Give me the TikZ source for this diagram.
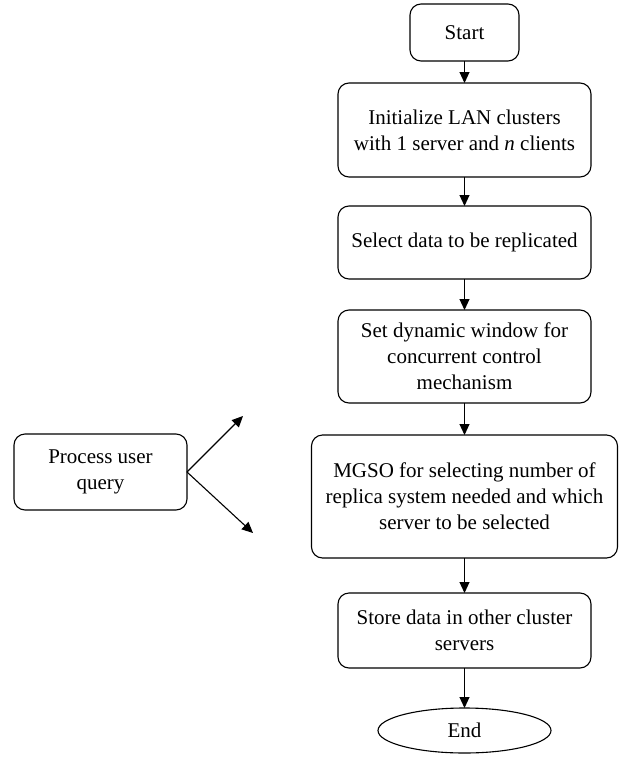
\documentclass[tikz,border=0pt]{standalone}
\usepackage{fontspec}
\setmainfont{Liberation Serif}
\usetikzlibrary{shapes.geometric,arrows.meta}
\begin{document}
\begin{tikzpicture}[x=1pt,y=-1pt,
    stepbox/.style={draw,rounded corners=11pt,line width=1.1pt,align=center,
        inner sep=0pt,outer sep=0pt,font=\fontsize{21}{26}\selectfont},
    flow/.style={-{Triangle[length=11pt,width=10pt]},line width=1.1pt}]
\useasboundingbox (0,0) rectangle (632,763);
% main column
\node[stepbox,minimum width=109pt,minimum height=57pt] (start) at (464.5,32.5) {Start};
\node[stepbox,minimum width=253pt,minimum height=94pt] (init) at (464.5,130) {Initialize LAN clusters\\with 1 server and \textit{n} clients};
\node[stepbox,minimum width=253pt,minimum height=73pt] (select) at (464.5,242.5) {Select data to be replicated};
\node[stepbox,minimum width=253pt,minimum height=93pt] (window) at (464.5,356.5) {Set dynamic window for\\concurrent control\\mechanism};
\node[stepbox,minimum width=306pt,minimum height=123pt] (mgso) at (464.5,496.5) {MGSO for selecting number of\\replica system needed and which\\server to be selected};
\node[stepbox,minimum width=253pt,minimum height=75pt] (store) at (464.5,630.5) {Store data in other cluster\\servers};
\node[stepbox,ellipse,minimum width=173pt,minimum height=45pt] (end) at (464.5,730.5) {End};
% side box
\node[stepbox,minimum width=173pt,minimum height=76pt] (query) at (100.5,472) {Process user\\query};
\coordinate (qup) at (243,416);
\coordinate (qdown) at (253,533);
\draw[flow] (start) -- (init);
\draw[flow] (init) -- (select);
\draw[flow] (select) -- (window);
\draw[flow] (window) -- (mgso);
\draw[flow] (mgso) -- (store);
\draw[flow] (store) -- (end);
\draw[flow] (query.east) -- (qup);
\draw[flow] (query.east) -- (qdown);
\end{tikzpicture}
\end{document}
